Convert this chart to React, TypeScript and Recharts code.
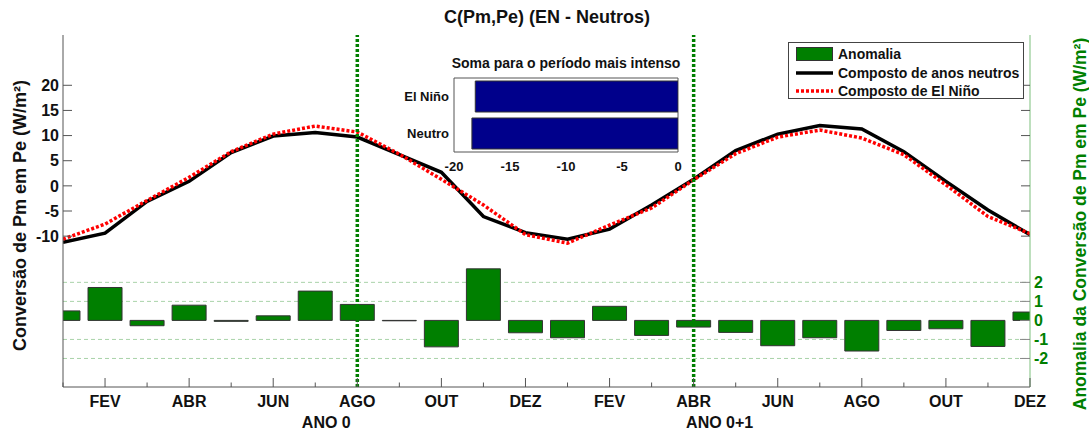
import {
  ComposedChart,
  BarChart,
  Bar,
  Line,
  XAxis,
  YAxis,
  CartesianGrid,
  ReferenceLine,
  ReferenceArea,
  Legend,
  Label,
} from 'recharts'

const FONT = 'Arial, "Liberation Sans", Helvetica, sans-serif'

// month index 0..23 = JAN (ANO 0) .. DEZ (ANO 0+1)
const months = [0, 1, 2, 3, 4, 5, 6, 7, 8, 9, 10, 11, 12, 13, 14, 15, 16, 17, 18, 19, 20, 21, 22, 23]
const monthLabels = [
  '', 'FEV', '', 'ABR', '', 'JUN', '', 'AGO', '', 'OUT', '', 'DEZ',
  '', 'FEV', '', 'ABR', '', 'JUN', '', 'AGO', '', 'OUT', '', 'DEZ',
]
const yearLabels: Record<number, string> = { 7: 'ANO 0', 15: 'ANO 0+1' }

const neutros = [
  -11.2, -9.4, -3.1, 0.9, 6.6, 9.9, 10.6, 9.7, 6.2, 2.7, -6.1, -9.3,
  -10.6, -8.6, -3.8, 1.3, 7.0, 10.3, 12.0, 11.3, 6.8, 0.9, -4.8, -9.7,
]
const elNino = [
  -10.6, -7.6, -2.9, 1.7, 6.8, 10.3, 11.9, 10.7, 6.3, 1.3, -3.8, -9.7,
  -11.4, -7.8, -4.4, 1.2, 6.4, 9.7, 11.1, 9.5, 6.2, 0.2, -6.1, -9.5,
]
const anomalia = [
  0.5, 1.73, -0.28, 0.8, -0.05, 0.24, 1.54, 0.84, -0.02, -1.39, 2.71, -0.65,
  -0.91, 0.74, -0.79, -0.35, -0.63, -1.33, -0.91, -1.61, -0.53, -0.44, -1.37, 0.44,
]

const leftTicks = [-10, -5, 0, 5, 10, 15, 20]
const rightTicks = [-2, -1, 0, 1, 2]
const anomGrid = [-2, -1, 1, 2]
const markerMonths = [7, 15]

const insetCats = ['El Niño', 'Neutro']
const insetVals = [-18.1, -18.4]
const insetTicks = [-20, -15, -10, -5, 0]

// layout
const W = 1089
const H = 431
const LEFT_W = 63
const RIGHT_W = 59
const TOP = 35
const BOTTOM_H = 44
const PLOT_R = W - RIGHT_W
const yearDx: Record<number, number> = { 7: -31, 15: 26 }

const GREEN = '#007f00'
const AXIS = '#555'

const chartData = months.map((m, i) => ({
  m,
  neutros: neutros[i],
  elNino: elNino[i],
  anomalia: anomalia[i],
}))
const insetData = insetCats.map((name, i) => ({ name, value: insetVals[i] }))

const txt = { fontFamily: FONT, fontWeight: 'bold' as const }

function BottomTick({ x, y, payload }: any) {
  const i = payload.value
  const label = monthLabels[i]
  const len = label ? 9 : 4.5
  return (
    <g>
      <line x1={x} x2={x} y1={y} y2={y - len} stroke={AXIS} />
      {label && (
        <text x={x} y={y + 19.5} textAnchor="middle" fontSize={16} fill="#111" {...txt}>
          {label}
        </text>
      )}
      {yearLabels[i] && (
        <text x={x + yearDx[i]} y={y + 40.5} textAnchor="middle" fontSize={16} fill="#111" {...txt}>
          {yearLabels[i]}
        </text>
      )}
    </g>
  )
}

function TopTick({ x, y, payload }: any) {
  const len = monthLabels[payload.value] ? 9 : 4.5
  return <line x1={x} x2={x} y1={y} y2={y + len} stroke={AXIS} />
}

function LeftTick({ x, y, payload }: any) {
  return (
    <g>
      <line x1={x} x2={x + 9} y1={y} y2={y} stroke={AXIS} />
      <line x1={PLOT_R} x2={PLOT_R - 9} y1={y} y2={y} stroke={AXIS} />
      <text x={x - 4} y={y} dy={5.7} textAnchor="end" fontSize={16} fill="#111" {...txt}>
        {payload.value}
      </text>
    </g>
  )
}

function RightTick({ x, y, payload }: any) {
  return (
    <g>
      <line x1={x} x2={x - 10} y1={y} y2={y} stroke="#888" />
      <text x={x + 4} y={y} dy={5.7} textAnchor="start" fontSize={16} fill={GREEN} {...txt}>
        {payload.value}
      </text>
    </g>
  )
}

function LegendBox() {
  const row = { display: 'flex', alignItems: 'center', height: 18.5 }
  const label = { ...txt, fontSize: 14, color: '#111', marginLeft: 5, whiteSpace: 'nowrap' as const }
  return (
    <div
      style={{
        width: 236,
        height: 57,
        boxSizing: 'border-box',
        border: '1px solid #444',
        background: '#fff',
        padding: '2px 0 0 7px',
      }}
    >
      <div style={row}>
        <svg width={37} height={14}>
          <rect x={0.5} y={0.5} width={36} height={13} fill={GREEN} stroke="#333" />
        </svg>
        <span style={label}>Anomalia</span>
      </div>
      <div style={row}>
        <svg width={37} height={14}>
          <line x1={0} x2={37} y1={7} y2={7} stroke="#000" strokeWidth={3.5} />
        </svg>
        <span style={label}>Composto de anos neutros</span>
      </div>
      <div style={row}>
        <svg width={37} height={14}>
          <line x1={0} x2={37} y1={7} y2={7} stroke="#f00" strokeWidth={3.5} strokeDasharray="3 2" />
        </svg>
        <span style={label}>Composto de El Niño</span>
      </div>
    </div>
  )
}

function Inset() {
  return (
    <div style={{ position: 'absolute', left: 380, top: 50, width: 310, height: 125 }}>
      <div
        style={{
          position: 'absolute',
          left: 186,
          top: 5,
          transform: 'translateX(-50%)',
          whiteSpace: 'nowrap',
          fontSize: 14,
          lineHeight: '16px',
          color: '#111',
          ...txt,
        }}
      >
        Soma para o período mais intenso
      </div>
      <BarChart
        layout="vertical"
        width={310}
        height={125}
        data={insetData}
        margin={{ top: 28, right: 12, bottom: 0, left: 0 }}
      >
        <ReferenceArea x1={-20} x2={0} fill="none" stroke={AXIS} ifOverflow="visible" />
        <XAxis
          type="number"
          domain={[-20, 0]}
          ticks={insetTicks}
          interval={0}
          height={23}
          axisLine={false}
          tickLine={false}
          tickSize={0}
          tickMargin={10}
          allowDataOverflow
          tick={{ fontSize: 13, fill: '#111', ...txt }}
        />
        <YAxis
          type="category"
          dataKey="name"
          width={74}
          axisLine={false}
          tickLine={false}
          tickSize={0}
          tickMargin={5}
          tick={{ fontSize: 13, fill: '#111', ...txt }}
        />
        <Bar dataKey="value" fill="#00008b" stroke="#333" barSize={31} isAnimationActive={false} />
      </BarChart>
    </div>
  )
}

export default function App() {
  return (
    <div style={{ position: 'absolute', left: 0, top: 0, width: W, height: H, background: '#fff' }}>
      <ComposedChart
        width={W}
        height={H}
        data={chartData}
        margin={{ top: TOP, right: 0, bottom: 0, left: 0 }}
      >
        <CartesianGrid
          xAxisId="b"
          yAxisId="r"
          vertical={false}
          horizontalValues={anomGrid}
          stroke="#a9d3a9"
          strokeDasharray="4 3"
        />
        <XAxis
          xAxisId="b"
          dataKey="m"
          type="number"
          domain={[0, 23]}
          ticks={months}
          interval={0}
          height={BOTTOM_H}
          allowDataOverflow
          tickLine={false}
          tickSize={0}
          tickMargin={0}
          axisLine={{ stroke: AXIS }}
          tick={(p: any) => <BottomTick {...p} />}
        />
        <XAxis
          xAxisId="t"
          orientation="top"
          type="number"
          domain={[0, 23]}
          ticks={months}
          interval={0}
          height={0}
          tickLine={false}
          tickSize={0}
          tickMargin={0}
          axisLine={{ stroke: AXIS }}
          tick={(p: any) => <TopTick {...p} />}
        />
        <YAxis
          yAxisId="l"
          width={LEFT_W}
          domain={[-40, 30]}
          ticks={leftTicks}
          interval={0}
          tickLine={false}
          tickSize={0}
          tickMargin={0}
          axisLine={{ stroke: AXIS }}
          tick={(p: any) => <LeftTick {...p} />}
        >
          <Label
            content={({ viewBox }: any) => {
              const cx = viewBox.x + 20
              const cy = viewBox.y + viewBox.height / 2 + 4.5
              return (
                <text
                  x={cx}
                  y={cy}
                  transform={`rotate(-90 ${cx} ${cy})`}
                  textAnchor="middle"
                  dominantBaseline="central"
                  fontSize={18}
                  fill="#111"
                  {...txt}
                >
                  Conversão de Pm em Pe (W/m²)
                </text>
              )
            }}
          />
        </YAxis>
        <YAxis
          yAxisId="r"
          orientation="right"
          width={RIGHT_W}
          domain={[-3.5, 15]}
          ticks={rightTicks}
          interval={0}
          tickLine={false}
          tickSize={0}
          tickMargin={0}
          axisLine={{ stroke: '#7dbf7d' }}
          tick={(p: any) => <RightTick {...p} />}
        >
          <Label
            content={({ viewBox }: any) => {
              const cx = viewBox.x + 50
              const cy = viewBox.y + viewBox.height / 2 + 13
              return (
                <text
                  x={cx}
                  y={cy}
                  transform={`rotate(-90 ${cx} ${cy})`}
                  textAnchor="middle"
                  dominantBaseline="central"
                  fontSize={17.5}
                  fill={GREEN}
                  {...txt}
                >
                  Anomalia da Conversão de Pm em Pe (W/m²)
                </text>
              )
            }}
          />
        </YAxis>
        <Bar
          xAxisId="b"
          yAxisId="r"
          dataKey="anomalia"
          barSize={34}
          fill={GREEN}
          stroke="#333"
          isAnimationActive={false}
        />
        <Line
          xAxisId="b"
          yAxisId="l"
          dataKey="neutros"
          stroke="#000"
          strokeWidth={3.5}
          dot={false}
          isAnimationActive={false}
        />
        <Line
          xAxisId="b"
          yAxisId="l"
          dataKey="elNino"
          stroke="#f00"
          strokeWidth={3.5}
          strokeDasharray="3 2"
          dot={false}
          isAnimationActive={false}
        />
        {markerMonths.map((m) => (
          <ReferenceLine
            key={m}
            xAxisId="b"
            yAxisId="l"
            x={m}
            stroke={GREEN}
            strokeWidth={3.5}
            strokeDasharray="3 2"
          />
        ))}
        <Legend
          layout="vertical"
          align="center"
          verticalAlign="middle"
          wrapperStyle={{ left: 788, top: 42, width: 236, height: 57 }}
          content={() => <LegendBox />}
        />
      </ComposedChart>
      <svg
        width={W}
        height={40}
        style={{ position: 'absolute', left: 0, top: 0, pointerEvents: 'none' }}
      >
        <text x={547} y={23.3} textAnchor="middle" fontSize={18} fill="#111" {...txt}>
          C(Pm,Pe) (EN - Neutros)
        </text>
      </svg>
      <Inset />
    </div>
  )
}
